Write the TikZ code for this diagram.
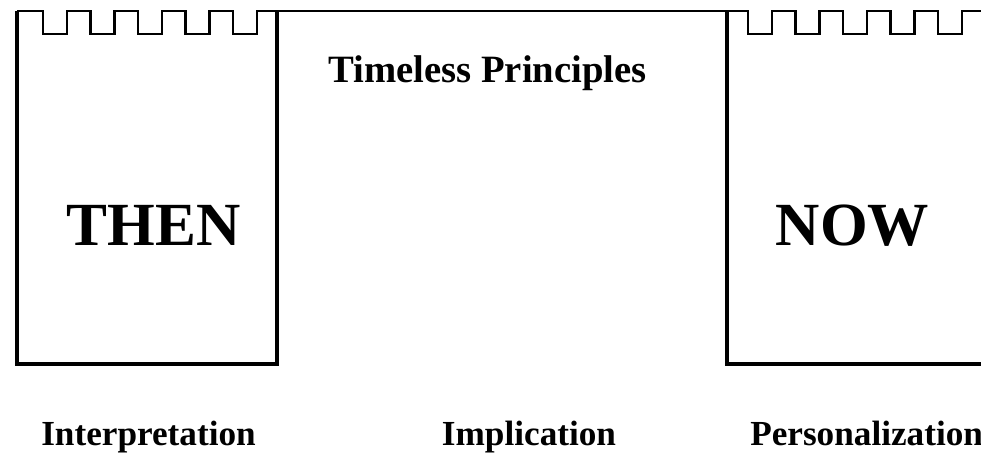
\documentclass[tikz,border=0pt]{standalone}
\usepackage{fontspec}
\setmainfont{Liberation Serif}
\begin{document}
\begin{tikzpicture}[x=0.75pt,y=-0.75pt,
  padedge/.style={line width=2.3pt},
  ringline/.style={line width=1.8pt},
  bigword/.style={font=\bfseries\fontsize{46}{46}\selectfont, anchor=base, inner sep=0pt},
  headword/.style={font=\bfseries\fontsize{29}{29}\selectfont, anchor=base, inner sep=0pt},
  stepword/.style={font=\bfseries\fontsize{26.4}{26.4}\selectfont, anchor=base, inner sep=0pt}]
\useasboundingbox (0,0) rectangle (981,468);
% spiral binding along the top
\draw[ringline] (17,11) foreach \a in {43,90.5,138,185.5,233,748,795.5,843,890.5,938}
  {-- (\a,11) -- (\a,34) -- (\a+24,34) -- (\a+24,11)} -- (981,11);
% THEN page
\draw[padedge] (17,11) -- (17,366);
\draw[padedge] (277,11) -- (277,366);
\draw[padedge] (17,364) -- (279,364);
% NOW page
\draw[padedge] (727,11) -- (727,366);
\draw[padedge] (727,364) -- (981,364);
% labels
\node[headword] (principles) at (487.5,82) {Timeless Principles};
\node[bigword] (then) at (153.5,245) {THEN};
\node[bigword] (now) at (852.5,245) {NOW};
\node[stepword] (interp) at (148.5,445) {Interpretation};
\node[stepword] (implic) at (529,445) {Implication};
\node[stepword, anchor=base west] (person) at (750,445) {Personalization};
\end{tikzpicture}
\end{document}
